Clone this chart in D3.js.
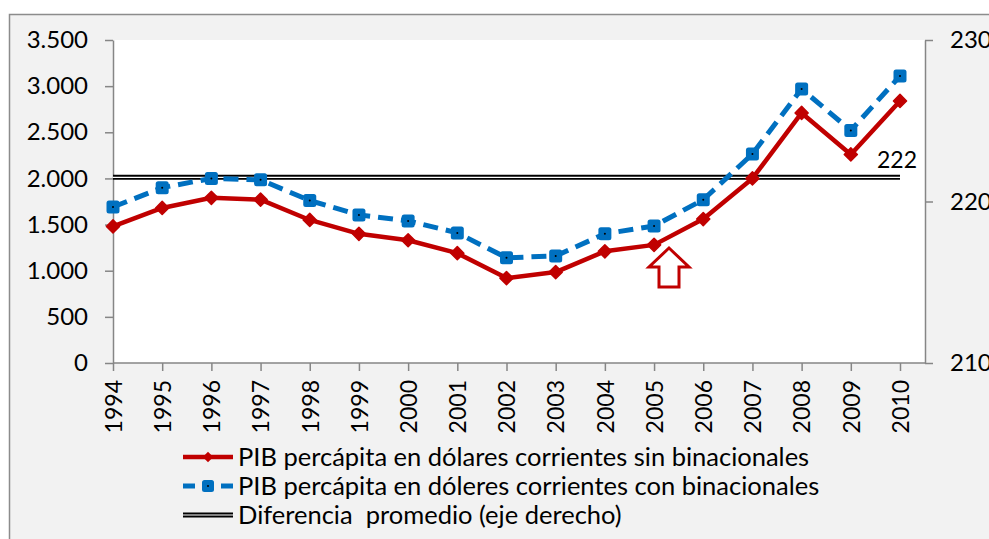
<!DOCTYPE html>
<html>
<head>
<meta charset="utf-8">
<script src="https://cdn.jsdelivr.net/npm/d3@7"></script>
<style>
  html, body { margin: 0; padding: 0; background: #fff; }
  svg { display: block; }
  text { font-family: Lato, "Open Sans", sans-serif; fill: #000; white-space: pre; }
</style>
</head>
<body>
<div id="chart"></div>
<script>
const years = [1994, 1995, 1996, 1997, 1998, 1999, 2000, 2001, 2002, 2003, 2004, 2005, 2006, 2007, 2008, 2009, 2010];
const sinBinacionales = [1480, 1680, 1790, 1770, 1550, 1400, 1330, 1190, 920, 985, 1210, 1280, 1560, 2000, 2710, 2260, 2840];
const conBinacionales = [1690, 1900, 2000, 1985, 1760, 1605, 1540, 1410, 1140, 1160, 1400, 1485, 1770, 2265, 2970, 2520, 3110];
const diferenciaPromedio = 221.5;
const diferenciaLabel = "222";
const leftTicks = [0, 500, 1000, 1500, 2000, 2500, 3000, 3500];
const rightTicks = [210, 220, 230];
const legendLabels = [
  "PIB percápita en dólares corrientes sin binacionales",
  "PIB percápita en dóleres corrientes con binacionales",
  "Diferencia  promedio (eje derecho)"
];

const W = 989, H = 539;
const plot = { left: 113, right: 925, top: 40, bottom: 363 };
const RED = "#c00000", BLUE = "#0070c0", AXIS = "#868686";

const svg = d3.select("#chart").append("svg").attr("width", W).attr("height", H);

// outer chart frame
svg.append("rect").attr("x", 9.5).attr("y", 14.5).attr("width", W).attr("height", H)
  .attr("fill", "#f2f2f2").attr("stroke", "#8c8c8c").attr("stroke-width", 1.5);
svg.append("rect").attr("x", plot.left).attr("y", plot.top)
  .attr("width", plot.right - plot.left).attr("height", plot.bottom - plot.top).attr("fill", "#fff");

const x = d3.scalePoint().domain(years).range([plot.left, 900]);
const yL = d3.scaleLinear().domain([0, 3500]).range([plot.bottom, plot.top]);
const yR = d3.scaleLinear().domain([210, 230]).range([plot.bottom, plot.top]);
const fmt = d => d3.format(",")(d).replace(/,/g, ".");

// left axis
svg.append("g").attr("transform", `translate(${plot.left},0)`)
  .call(d3.axisLeft(yL).tickValues(leftTicks).tickFormat(fmt).tickSize(8).tickSizeOuter(0).tickPadding(17))
  .call(g => g.select(".domain").attr("stroke", AXIS).attr("stroke-width", 1.5))
  .call(g => g.selectAll(".tick line").attr("stroke", AXIS).attr("stroke-width", 1.5))
  .call(g => g.selectAll(".tick text").attr("font-size", 24).attr("font-family", "Lato, sans-serif"));

// right axis
svg.append("g").attr("transform", `translate(${plot.right},0)`)
  .call(d3.axisRight(yR).tickValues(rightTicks).tickSize(8).tickSizeOuter(0).tickPadding(17))
  .call(g => g.select(".domain").attr("stroke", AXIS).attr("stroke-width", 1.5))
  .call(g => g.selectAll(".tick line").attr("stroke", AXIS).attr("stroke-width", 1.5))
  .call(g => g.selectAll(".tick text").attr("font-size", 24).attr("font-family", "Lato, sans-serif"));

// bottom axis
const xAxis = svg.append("g").attr("transform", `translate(0,${plot.bottom})`)
  .call(d3.axisBottom(x).tickSize(8).tickSizeOuter(0))
  .call(g => g.select(".domain").remove())
  .call(g => g.selectAll(".tick line").attr("stroke", AXIS).attr("stroke-width", 1.5));
xAxis.append("line").attr("x1", plot.left).attr("x2", plot.right)
  .attr("stroke", AXIS).attr("stroke-width", 1.5);
xAxis.selectAll(".tick text")
  .attr("font-size", 23).attr("font-family", "Lato, sans-serif")
  .attr("transform", "rotate(-90)")
  .attr("text-anchor", "end").attr("x", -17).attr("y", 0).attr("dy", "0.36em");

// average difference (double line)
const avgY = yR(diferenciaPromedio);
svg.append("line").attr("x1", plot.left).attr("x2", x(2010)).attr("y1", avgY).attr("y2", avgY)
  .attr("stroke", "#000").attr("stroke-width", 5);
svg.append("line").attr("x1", plot.left).attr("x2", x(2010)).attr("y1", avgY).attr("y2", avgY)
  .attr("stroke", "#fff").attr("stroke-width", 1.2);
svg.append("text").attr("x", 877).attr("y", avgY - 9)
  .attr("font-size", 23).text(diferenciaLabel);

const line = d3.line().x((d, i) => x(years[i])).y(d => yL(d));

// series with binacionales (blue dashed)
svg.append("path").datum(conBinacionales).attr("d", line)
  .attr("fill", "none").attr("stroke", BLUE).attr("stroke-width", 5)
  .attr("stroke-dasharray", "15 8").attr("stroke-linejoin", "round");
svg.selectAll(".sq").data(conBinacionales).join("rect")
  .attr("x", (d, i) => x(years[i]) - 6.5).attr("y", d => yL(d) - 6.5)
  .attr("width", 13).attr("height", 13).attr("rx", 2.5).attr("fill", BLUE);
svg.selectAll(".dot").data(conBinacionales).join("circle")
  .attr("cx", (d, i) => x(years[i])).attr("cy", d => yL(d)).attr("r", 1).attr("fill", "#000");

// series without binacionales (red solid)
svg.append("path").datum(sinBinacionales).attr("d", line)
  .attr("fill", "none").attr("stroke", RED).attr("stroke-width", 4.5).attr("stroke-linejoin", "round");
svg.selectAll(".dia").data(sinBinacionales).join("path")
  .attr("d", d3.symbol(d3.symbolDiamond2, 110))
  .attr("transform", (d, i) => `translate(${x(years[i])},${yL(d)})`)
  .attr("fill", RED).attr("stroke", RED).attr("stroke-width", 1.5).attr("stroke-linejoin", "round");

// up arrow annotation
const ax = 669, at = 248;
svg.append("path")
  .attr("d", `M${ax},${at} L${ax + 20},${at + 19} L${ax + 10},${at + 19} L${ax + 10},${at + 39} L${ax - 10},${at + 39} L${ax - 10},${at + 19} L${ax - 20},${at + 19} Z`)
  .attr("fill", "#fff").attr("stroke", RED).attr("stroke-width", 3);

// legend
const legend = svg.append("g").attr("transform", "translate(183,457)");
legendLabels.forEach((label, i) => {
  const g = legend.append("g").attr("transform", `translate(0,${i * 29})`);
  if (i === 0) {
    g.append("line").attr("x1", 0).attr("x2", 50).attr("stroke", RED).attr("stroke-width", 4.5);
    g.append("path").attr("d", d3.symbol(d3.symbolDiamond2, 70)).attr("transform", "translate(25,0)").attr("fill", RED);
  } else if (i === 1) {
    g.append("line").attr("x1", 0).attr("x2", 50).attr("stroke", BLUE).attr("stroke-width", 5).attr("stroke-dasharray", "12 7");
    g.append("rect").attr("x", 19).attr("y", -6).attr("width", 12).attr("height", 12).attr("rx", 2.5).attr("fill", BLUE);
    g.append("circle").attr("cx", 25).attr("cy", 0).attr("r", 1).attr("fill", "#000");
  } else {
    g.append("line").attr("x1", 0).attr("x2", 50).attr("stroke", "#000").attr("stroke-width", 5);
    g.append("line").attr("x1", 0).attr("x2", 50).attr("stroke", "#fff").attr("stroke-width", 1.2);
  }
  g.append("text").attr("x", 55).attr("y", 0).attr("dy", "0.35em").attr("font-size", 25.5).text(label);
});
</script>
</body>
</html>
